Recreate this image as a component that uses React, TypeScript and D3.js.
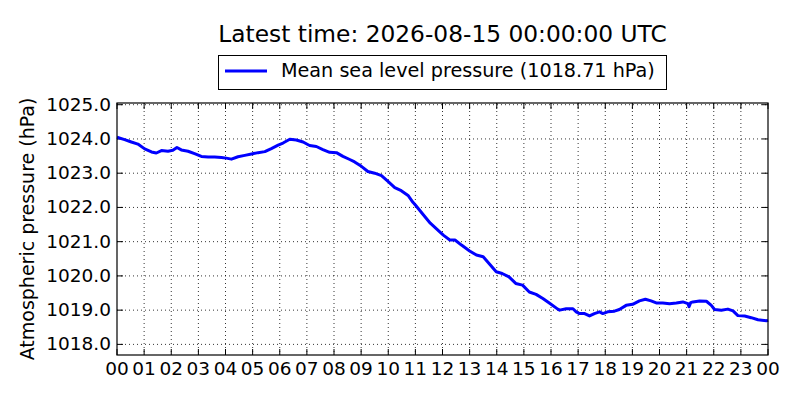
import React from 'react';
import * as d3 from 'd3';

// hours since 00 UTC
const hours = [
  0.0, 0.28, 0.53, 0.77, 1.02, 1.27, 1.45, 1.64, 1.88, 2.06, 2.21, 2.37, 2.62, 2.86,
  3.11, 3.36, 3.6, 3.85, 4.03, 4.22, 4.46, 4.71, 4.96, 5.2, 5.45, 5.69, 5.94, 6.12,
  6.37, 6.61, 6.86, 7.1, 7.35, 7.59, 7.84, 8.09, 8.33, 8.58, 8.76, 9.01, 9.25, 9.5,
  9.75, 9.99, 10.24, 10.48, 10.73, 10.91, 11.0, 11.3, 11.55, 11.8, 12.03, 12.27, 12.46,
  12.7, 13.0, 13.25, 13.5, 13.74, 13.98, 14.2, 14.45, 14.7, 14.95, 15.2, 15.45, 15.7,
  15.95, 16.25, 16.32, 16.56, 16.81, 16.93, 17.05, 17.24, 17.42, 17.6, 17.79, 17.91,
  18.09, 18.34, 18.52, 18.77, 19.01, 19.26, 19.48, 19.69, 19.88, 20.12, 20.37, 20.62,
  20.86, 21.05, 21.09, 21.15, 21.23, 21.48, 21.73, 21.91, 22.03, 22.28, 22.52, 22.71,
  22.89, 23.14, 23.38, 23.63, 23.94, 24.0,
];

const pressure = [
  1024.05, 1023.98, 1023.91, 1023.85, 1023.71, 1023.62, 1023.59, 1023.66, 1023.64, 1023.67,
  1023.75, 1023.68, 1023.64, 1023.57, 1023.49, 1023.47, 1023.47, 1023.46, 1023.44, 1023.41,
  1023.48, 1023.52, 1023.56, 1023.6, 1023.63, 1023.72, 1023.82, 1023.88, 1023.99, 1023.97,
  1023.91, 1023.81, 1023.78, 1023.69, 1023.61, 1023.6, 1023.49, 1023.4, 1023.33, 1023.2,
  1023.05, 1023.0, 1022.93, 1022.76, 1022.58, 1022.49, 1022.35, 1022.15, 1022.07, 1021.78,
  1021.54, 1021.36, 1021.19, 1021.05, 1021.05, 1020.9, 1020.73, 1020.61, 1020.56, 1020.34,
  1020.12, 1020.07, 1019.97, 1019.78, 1019.73, 1019.53, 1019.46, 1019.34, 1019.2, 1019.03,
  1019.0, 1019.04, 1019.04, 1018.95, 1018.9, 1018.9, 1018.83, 1018.9, 1018.95, 1018.9,
  1018.95, 1018.97, 1019.02, 1019.14, 1019.17, 1019.27, 1019.32, 1019.27, 1019.21, 1019.21,
  1019.19, 1019.21, 1019.24, 1019.19, 1019.1, 1019.22, 1019.24, 1019.27, 1019.26, 1019.14,
  1019.02, 1019.0, 1019.03, 1018.98, 1018.84, 1018.83, 1018.78, 1018.72, 1018.69, 1018.71,
];

const yTicks = [1018, 1019, 1020, 1021, 1022, 1023, 1024, 1025];
const xTicks = d3.range(0, 25);

const title = 'Latest time: 2026-08-15 00:00:00 UTC';
const legendLabel = 'Mean sea level pressure (1018.71 hPa)';
const yLabel = 'Atmospheric pressure (hPa)';

const W = 800;
const H = 400;
const margin = { top: 103, right: 32, bottom: 45, left: 117 };
const font = 'DejaVu Sans, sans-serif';

const App: React.FC = () => {
  const iw = W - margin.left - margin.right;
  const ih = H - margin.top - margin.bottom;

  const x = d3.scaleLinear().domain([0, 24]).range([0, iw]);
  const lo = d3.min(pressure) as number;
  const hi = d3.max(pressure) as number;
  const y = d3.scaleLinear().domain([lo - 1, hi + 1]).range([ih, 0]);

  const line = d3.line<number>()
    .x((_, i) => x(hours[i]))
    .y(d => y(d));

  const cx = margin.left + iw / 2;

  return (
    <svg width={W} height={H} style={{ position: 'absolute', left: 0, top: 0, background: '#fff' }}
      fontFamily={font}>
      <rect width={W} height={H} fill="#fff" />
      <text x={cx} y={42} textAnchor="middle" fontSize={23.3}>{title}</text>

      <g transform={`translate(${margin.left},${margin.top})`}>
        {xTicks.slice(1, -1).map(t => (
          <line key={'gx' + t} x1={x(t)} x2={x(t)} y1={0} y2={ih}
            stroke="#000" strokeWidth={0.8} strokeDasharray="1,3" />
        ))}
        {yTicks.map(t => (
          <line key={'gy' + t} x1={0} x2={iw} y1={y(t)} y2={y(t)}
            stroke="#000" strokeWidth={0.8} strokeDasharray="1,3" />
        ))}

        {xTicks.map(t => (
          <g key={'tx' + t}>
            <line x1={x(t)} x2={x(t)} y1={ih} y2={ih - 6} stroke="#000" />
            <line x1={x(t)} x2={x(t)} y1={0} y2={6} stroke="#000" />
            <text x={x(t)} y={ih + 19.5} textAnchor="middle" fontSize={18.5}>
              {String(t % 24).padStart(2, '0')}
            </text>
          </g>
        ))}
        {yTicks.map(t => (
          <g key={'ty' + t}>
            <line x1={0} x2={6} y1={y(t)} y2={y(t)} stroke="#000" />
            <line x1={iw} x2={iw - 6} y1={y(t)} y2={y(t)} stroke="#000" />
            <text x={-6} y={y(t) + 6} textAnchor="end" fontSize={18.5}>{t.toFixed(1)}</text>
          </g>
        ))}

        <path d={line(pressure) || ''} fill="none" stroke="#0000ff" strokeWidth={3}
          strokeLinejoin="round" />

        <rect x={0} y={0} width={iw} height={ih} fill="none" stroke="#000" strokeWidth={1.2} />
      </g>

      <text transform={`translate(34,${margin.top + ih / 2}) rotate(-90)`} textAnchor="middle"
        fontSize={19}>{yLabel}</text>

      <g>
        <rect x={218.5} y={55.5} width={448} height={34} fill="#fff" stroke="#000" strokeWidth={1} />
        <line x1={225} x2={267} y1={71} y2={71} stroke="#0000ff" strokeWidth={3} />
        <text x={281} y={77} fontSize={19.2}>{legendLabel}</text>
      </g>
    </svg>
  );
};

export default App;
